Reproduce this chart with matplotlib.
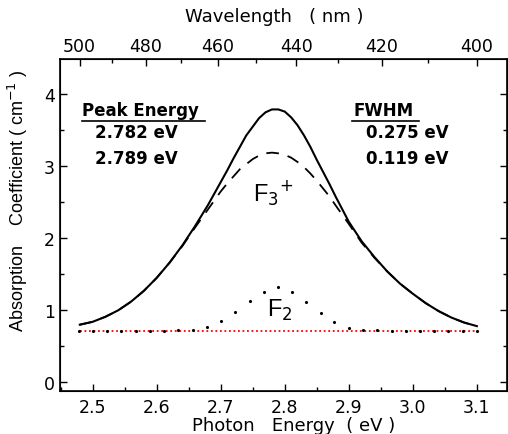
import numpy as np
import matplotlib
matplotlib.use("Agg")
import matplotlib.pyplot as plt

plt.rcParams['font.family'] = ['DejaVu Sans']

# photon energy grid (eV) for the fitted curves
energy = [2.48, 2.50, 2.52, 2.54, 2.56, 2.58, 2.60, 2.62, 2.64, 2.66, 2.68,
          2.70, 2.71, 2.72, 2.73, 2.74, 2.75, 2.76, 2.77, 2.78, 2.79, 2.80,
          2.81, 2.82, 2.83, 2.84, 2.85, 2.86, 2.87, 2.88, 2.90,
          2.92, 2.94, 2.96, 2.98, 3.00, 3.02, 3.04, 3.06, 3.08, 3.10]
# total absorption (solid)
total = [0.79, 0.83, 0.90, 0.99, 1.11, 1.26, 1.44, 1.65, 1.89, 2.16, 2.45,
         2.77, 2.93, 3.10, 3.26, 3.42, 3.54, 3.66, 3.74, 3.78, 3.78, 3.75,
         3.67, 3.56, 3.42, 3.26, 3.08, 2.91, 2.74, 2.56, 2.22,
         1.95, 1.73, 1.53, 1.36, 1.22, 1.09, 0.98, 0.89, 0.82, 0.77]
# F3+ band (dashed)
f3 = [0.79, 0.83, 0.90, 0.99, 1.11, 1.26, 1.44, 1.65, 1.88, 2.14, 2.39,
      2.64, 2.75, 2.85, 2.95, 3.02, 3.09, 3.14, 3.17, 3.18, 3.17, 3.15,
      3.11, 3.05, 2.98, 2.89, 2.79, 2.68, 2.57, 2.44, 2.19,
      1.93, 1.72, 1.53, 1.36, 1.22, 1.09, 0.98, 0.89, 0.82, 0.77]
# F2 band (dots)
f2_energy = [2.478, 2.500, 2.523, 2.545, 2.567, 2.589, 2.612, 2.634, 2.656,
             2.679, 2.700, 2.723, 2.745, 2.767, 2.789, 2.812, 2.833, 2.856,
             2.877, 2.900, 2.922, 2.944, 2.967, 2.989, 3.011, 3.033, 3.055,
             3.078, 3.100]
f2 = [0.70, 0.70, 0.70, 0.70, 0.70, 0.70, 0.70, 0.71, 0.72, 0.76, 0.84,
      0.97, 1.12, 1.25, 1.31, 1.24, 1.10, 0.95, 0.83, 0.75, 0.72, 0.71,
      0.70, 0.70, 0.70, 0.70, 0.70, 0.70, 0.70]
baseline = 0.70

wl_ticks = [500, 480, 460, 440, 420, 400]
wl_minor = [490, 470, 450, 430, 410]

fig = plt.figure(figsize=(5.08, 4.35), dpi=100)
ax = fig.add_axes([0.118, 0.099, 0.880, 0.763])

ax.plot(energy, total, color='k', lw=1.5)
ax.plot(energy, f3, color='k', lw=1.3, linestyle=(0, (7, 5)))
ax.plot([energy[0], energy[-1]], [baseline, baseline], color='red', lw=1.3,
        linestyle=(0, (1, 1.5)))
ax.plot(f2_energy, f2, linestyle='none', marker='.', color='k', markersize=2.5)

ax.set_xlim(2.449, 3.147)
ax.set_ylim(-0.13, 4.48)
ax.set_xticks([2.5, 2.6, 2.7, 2.8, 2.9, 3.0, 3.1])
ax.set_xticklabels(['2.5', '2.6', '2.7', '2.8', '2.9', '3.0', '3.1'])
ax.set_xticks(np.arange(2.45, 3.15, 0.05), minor=True)
ax.set_yticks([0, 1, 2, 3, 4])
ax.set_yticks([0.5, 1.5, 2.5, 3.5], minor=True)
ax.tick_params(which='both', direction='in', right=True, labelsize=12.5)
ax.tick_params(which='major', length=5, width=1)
ax.tick_params(which='minor', length=3, width=1)
ax.tick_params(axis='x', which='major', pad=5)
for s in ax.spines.values():
    s.set_linewidth(1.2)

ax.set_xlabel('Photon   Energy  ( eV )', fontsize=13, labelpad=0)
ax.xaxis.set_label_coords(0.523, -0.075)
ax.set_ylabel('Absorption    Coefficient ( cm$^{-1}$ )', fontsize=13,
              family='Liberation Sans')
ax.yaxis.set_label_coords(-0.066, 0.575)

ax2 = ax.twiny()
ax2.set_xlim(ax.get_xlim())
ax2.set_xticks([1239.84 / w for w in wl_ticks])
ax2.set_xticklabels([str(w) for w in wl_ticks])
ax2.set_xticks([1239.84 / w for w in wl_minor], minor=True)
ax2.tick_params(which='both', direction='in', labelsize=12.5)
ax2.tick_params(which='major', length=5, width=1, pad=3)
ax2.tick_params(which='minor', length=3, width=1)
ax2.set_xlabel('Wavelength   ( nm )', fontsize=13, labelpad=5)
ax2.xaxis.set_label_coords(0.479, 1.115)

# annotations
ax.text(2.484, 3.77, 'Peak Energy', fontsize=12, fontweight='bold',
        ha='left', va='center')
ax.plot([2.483, 2.676], [3.62, 3.62], color='k', lw=1.2)
ax.text(2.503, 3.47, '2.782 eV', fontsize=12, fontweight='bold', va='center')
ax.text(2.503, 3.10, '2.789 eV', fontsize=12, fontweight='bold', va='center')

ax.text(2.908, 3.77, 'FWHM', fontsize=12, fontweight='bold', va='center')
ax.plot([2.905, 3.009], [3.62, 3.62], color='k', lw=1.2)
ax.text(2.927, 3.47, '0.275 eV', fontsize=12, fontweight='bold', va='center')
ax.text(2.927, 3.10, '0.119 eV', fontsize=12, fontweight='bold', va='center')

ax.text(2.782, 2.63, 'F$_3$$^{+}$', fontsize=17, ha='center', va='center',
        family='Liberation Sans', math_fontfamily='dejavusans')
ax.text(2.792, 1.00, 'F$_2$', fontsize=17, ha='center', va='center',
        family='Liberation Sans')

fig.savefig('out.png', dpi=100)
